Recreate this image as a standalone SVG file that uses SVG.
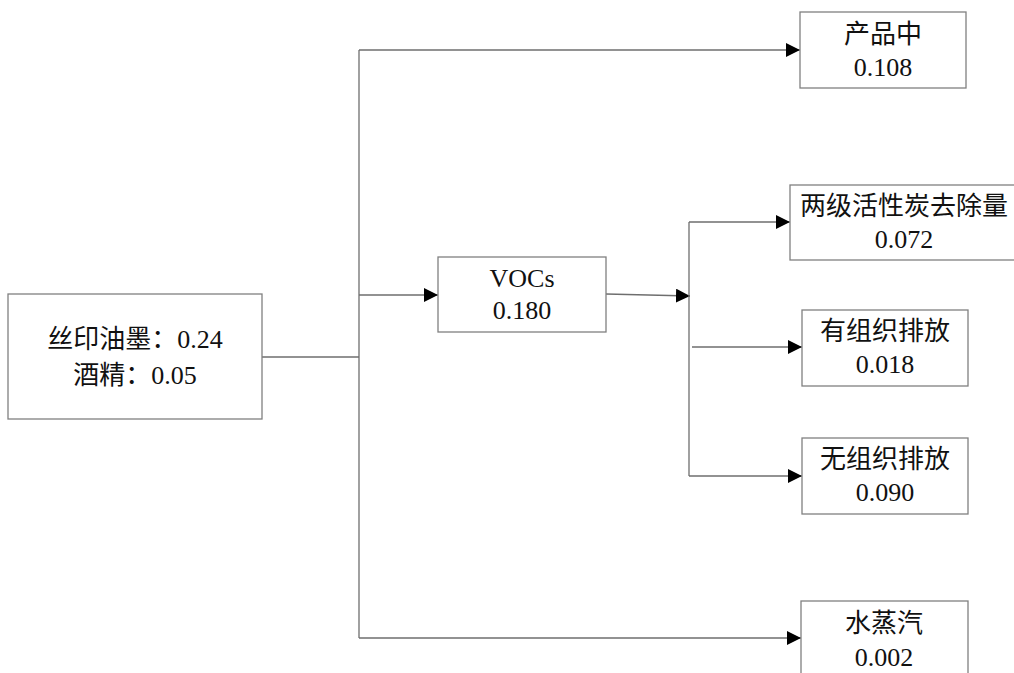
<svg xmlns="http://www.w3.org/2000/svg" width="1014" height="673" viewBox="0 0 1014 673">
<style>
.box{fill:#fff;stroke:#808080;stroke-width:1.3}
.ln{fill:none;stroke:#6e6e6e;stroke-width:1.3}
text{font-family:"Liberation Serif","Noto Sans CJK SC",serif;font-size:26px;fill:#111;text-anchor:middle}
</style>
<defs>
<marker id="ah" viewBox="0 0 14 14" refX="14" refY="7" markerWidth="14" markerHeight="14" markerUnits="userSpaceOnUse" orient="auto">
<path d="M0,0 L14,7 L0,14 Z" fill="#000"/>
</marker>
</defs>
<g id="connectors">
<path class="ln" d="M262,357 H359"/>
<path class="ln" d="M359,50 V638"/>
<path class="ln" d="M359,50 H800" marker-end="url(#ah)"/>
<path class="ln" d="M359,295 H438" marker-end="url(#ah)"/>
<path class="ln" d="M359,638 H801" marker-end="url(#ah)"/>
<path class="ln" d="M606,294 L690,296" marker-end="url(#ah)"/>
<path class="ln" d="M689,222 V476"/>
<path class="ln" d="M689,222 H790" marker-end="url(#ah)"/>
<path class="ln" d="M692,347 H802" marker-end="url(#ah)"/>
<path class="ln" d="M689,476 H802" marker-end="url(#ah)"/>
</g>
<g id="n_input">
<rect class="box" x="8" y="294" width="254" height="125"/>
<text x="135" y="348">丝印油墨：0.24</text>
<text x="135" y="384">酒精：0.05</text>
</g>
<g id="n_product">
<rect class="box" x="800" y="12" width="166" height="76"/>
<text x="883" y="43">产品中</text>
<text x="883" y="76">0.108</text>
</g>
<g id="n_vocs">
<rect class="box" x="438" y="257" width="168" height="75"/>
<text x="522" y="287">VOCs</text>
<text x="522" y="319">0.180</text>
</g>
<g id="n_carbon">
<rect class="box" x="790" y="185" width="230" height="75"/>
<text x="904" y="215">两级活性炭去除量</text>
<text x="904" y="248">0.072</text>
</g>
<g id="n_organized">
<rect class="box" x="802" y="310" width="166" height="76"/>
<text x="885" y="340">有组织排放</text>
<text x="885" y="373">0.018</text>
</g>
<g id="n_fugitive">
<rect class="box" x="802" y="438" width="166" height="76"/>
<text x="885" y="468">无组织排放</text>
<text x="885" y="501">0.090</text>
</g>
<g id="n_steam">
<rect class="box" x="801" y="601" width="167" height="90"/>
<text x="884" y="632">水蒸汽</text>
<text x="884" y="666">0.002</text>
</g>
</svg>
